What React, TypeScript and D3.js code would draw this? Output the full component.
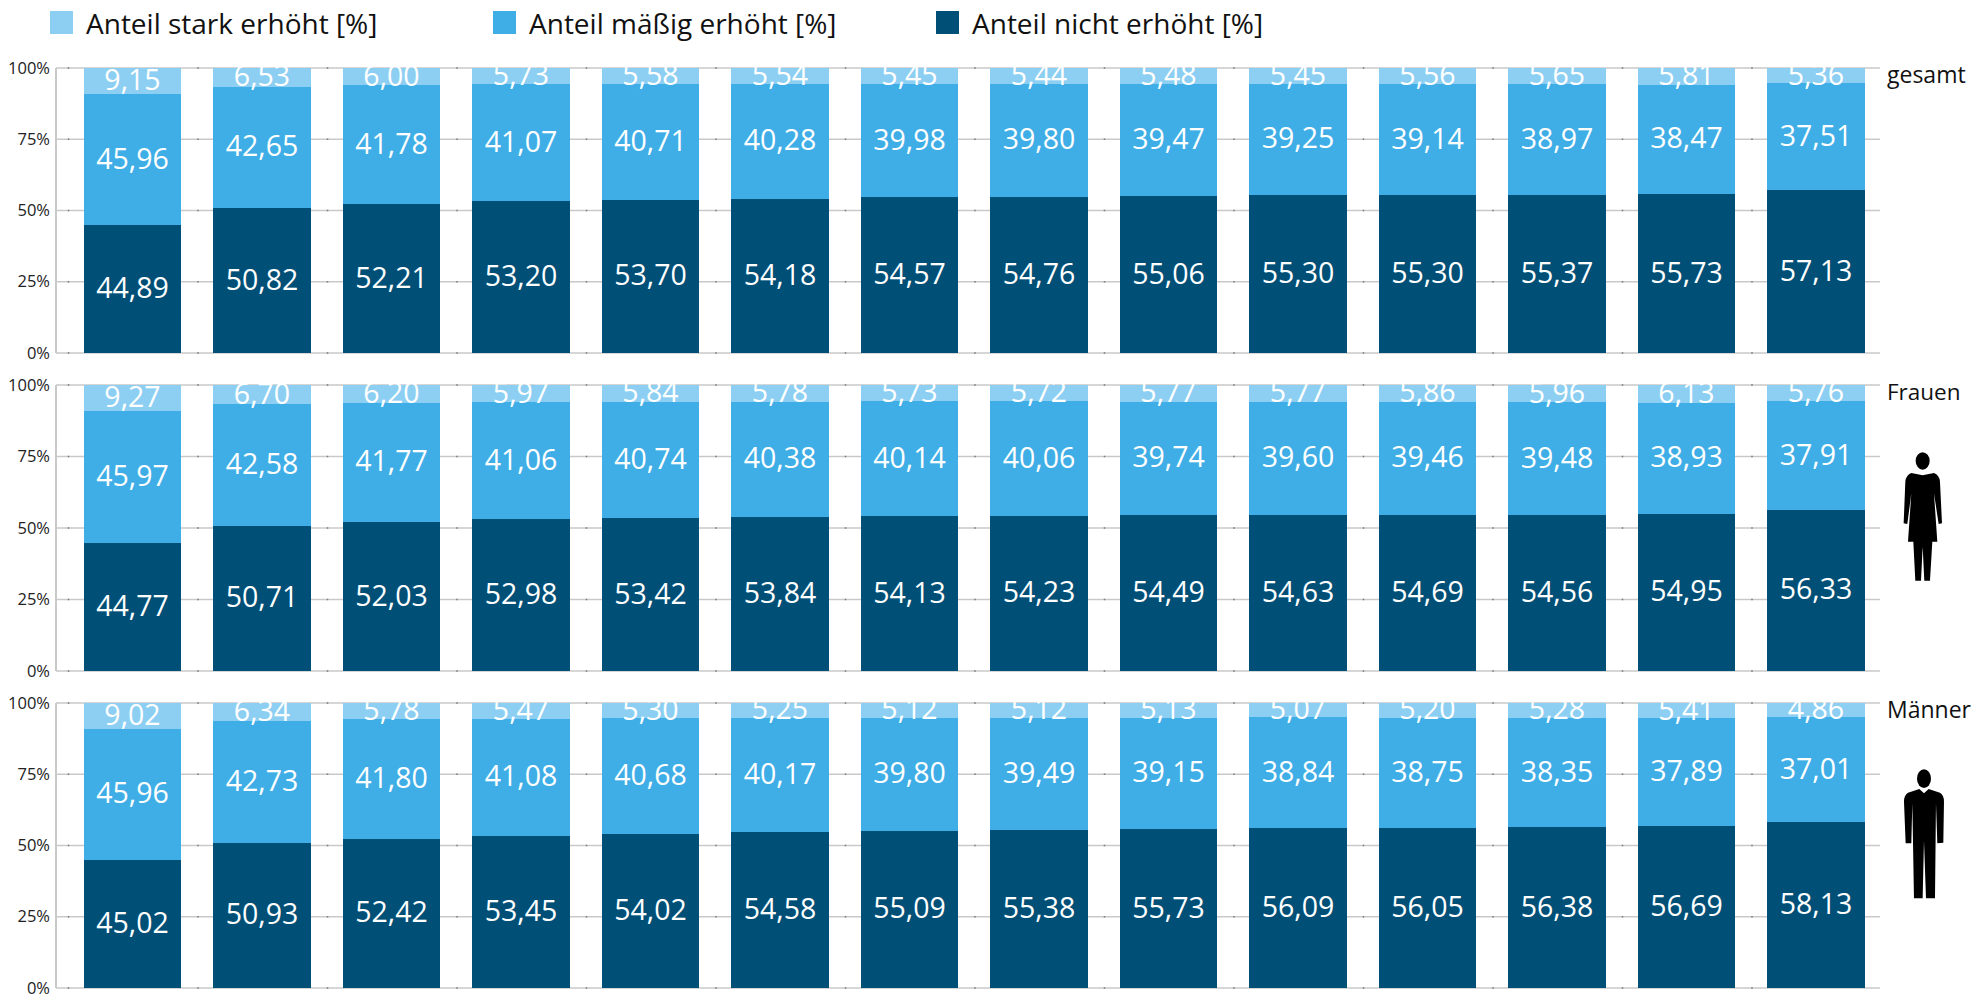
import React from "react";
import * as d3 from "d3";

const years = d3.range(14).map(String);
const seriesNames = ["Anteil nicht erhöht [%]", "Anteil mäßig erhöht [%]", "Anteil stark erhöht [%]"];
const colors = ["#004f77", "#3faee6", "#8dcff2"];

const gesamtNicht = [44.89, 50.82, 52.21, 53.2, 53.7, 54.18, 54.57, 54.76, 55.06, 55.3, 55.3, 55.37, 55.73, 57.13];
const gesamtMaessig = [45.96, 42.65, 41.78, 41.07, 40.71, 40.28, 39.98, 39.8, 39.47, 39.25, 39.14, 38.97, 38.47, 37.51];
const gesamtStark = [9.15, 6.53, 6.0, 5.73, 5.58, 5.54, 5.45, 5.44, 5.48, 5.45, 5.56, 5.65, 5.81, 5.36];

const frauenNicht = [44.77, 50.71, 52.03, 52.98, 53.42, 53.84, 54.13, 54.23, 54.49, 54.63, 54.69, 54.56, 54.95, 56.33];
const frauenMaessig = [45.97, 42.58, 41.77, 41.06, 40.74, 40.38, 40.14, 40.06, 39.74, 39.6, 39.46, 39.48, 38.93, 37.91];
const frauenStark = [9.27, 6.7, 6.2, 5.97, 5.84, 5.78, 5.73, 5.72, 5.77, 5.77, 5.86, 5.96, 6.13, 5.76];

const maennerNicht = [45.02, 50.93, 52.42, 53.45, 54.02, 54.58, 55.09, 55.38, 55.73, 56.09, 56.05, 56.38, 56.69, 58.13];
const maennerMaessig = [45.96, 42.73, 41.8, 41.08, 40.68, 40.17, 39.8, 39.49, 39.15, 38.84, 38.75, 38.35, 37.89, 37.01];
const maennerStark = [9.02, 6.34, 5.78, 5.47, 5.3, 5.25, 5.12, 5.12, 5.13, 5.07, 5.2, 5.28, 5.41, 4.86];

const yTicks = [0, 25, 50, 75, 100];
const font = "'Open Sans', sans-serif";
const fmt = (v: number) => v.toFixed(2).replace(".", ",");

const panels = [
  { name: "gesamt", top: 68, bottom: 353, nameSize: 23, rows: [gesamtNicht, gesamtMaessig, gesamtStark] },
  { name: "Frauen", top: 385, bottom: 671, nameSize: 22.5, rows: [frauenNicht, frauenMaessig, frauenStark] },
  { name: "Männer", top: 703, bottom: 988, nameSize: 23, rows: [maennerNicht, maennerMaessig, maennerStark] },
];

const legend = [
  { i: 2, x: 50, tx: 86 },
  { i: 1, x: 493, tx: 529 },
  { i: 0, x: 936, tx: 972 },
];

const x = d3.scaleBand<string>().domain(years).range([67.75, 1880.75]).paddingInner(0.25).paddingOuter(0.125);
const axisLeft = 56;
const axisRight = 1880;

function Woman() {
  return (
    <g transform="translate(1780,360) scale(0.3333)" fill="#000">
      <ellipse cx={428} cy={303} rx={21} ry={26} />
      <path d="M428 346 L462 339 Q478 345 480 365 L486 490 L476 492 L462 400 L472 545 L457 545 L450 662 L433 662 L428 560 L423 662 L406 662 L400 545 L384 545 L394 400 L382 492 L371 490 L376 365 Q378 345 394 339 Z" />
    </g>
  );
}

function Man() {
  return (
    <g transform="translate(1780,680) scale(0.3333)" fill="#000">
      <ellipse cx={432} cy={296} rx={21} ry={28} />
      <path d="M432 340 L446 327 L480 338 Q492 345 492 365 L490 488 L472 490 L468 370 L465 655 L438 655 L432 482 L428 655 L402 655 L397 370 L394 490 L377 490 L372 365 Q372 345 384 338 L418 327 Z" />
    </g>
  );
}

export default function App() {
  return (
    <svg width={1977} height={994} style={{ position: "absolute", left: 0, top: 0, background: "#fff" }} fontFamily={font}>
      {legend.map((l) => (
        <g key={l.i}>
          <rect x={l.x} y={11} width={23} height={23} fill={colors[l.i]} />
          <text x={l.tx} y={34} fontSize={28} fill="#111">{seriesNames[l.i]}</text>
        </g>
      ))}
      {panels.map((p) => {
        const y = d3.scaleLinear().domain([0, 100]).range([p.bottom, p.top]);
        const stacked = d3.stack<number>().keys(["0", "1", "2"]).value((i, k) => p.rows[+k][i])(d3.range(years.length));
        return (
          <g key={p.name}>
            {yTicks.map((t) => (
              <g key={t}>
                <line x1={axisLeft} x2={axisRight} y1={y(t)} y2={y(t)} stroke="#c9c9c9" strokeWidth={1.5} />
                {years.map((yr) => (
                  <line key={yr} x1={x(yr)! - x.step() * 0.125} x2={x(yr)! - x.step() * 0.125 + 1.5} y1={y(t)} y2={y(t)} stroke="#777" strokeWidth={1.5} />
                ))}
                <text x={50} y={y(t) + 5.5} textAnchor="end" fontSize={16.5} fill="#222">{t}%</text>
              </g>
            ))}
            <line x1={axisLeft} x2={axisLeft} y1={p.top} y2={p.bottom} stroke="#c9c9c9" strokeWidth={2} />
            {stacked.map((s, k) =>
              s.map((d, i) => (
                <rect key={k + "-" + i} x={x(years[i])} width={x.bandwidth()} y={y(Math.min(d[1], 100))} height={y(d[0]) - y(Math.min(d[1], 100))} fill={colors[k]} shapeRendering="crispEdges" />
              ))
            )}
            {stacked.map((s, k) =>
              s.map((d, i) => (
                <text key={k + "-" + i} x={x(years[i])! + x.bandwidth() / 2} y={y((d[0] + d[1]) / 2) + 9} textAnchor="middle" fontSize={28.5} fill="#fff">
                  {fmt(p.rows[k][i])}
                </text>
              ))
            )}
            <text x={1887} y={p.top + 15} fontSize={p.nameSize} fill="#111">{p.name}</text>
          </g>
        );
      })}
      <Woman />
      <Man />
    </svg>
  );
}
